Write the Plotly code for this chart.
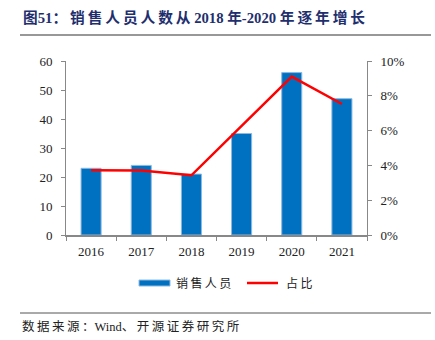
import plotly.graph_objects as go

# Data
years = ["2016", "2017", "2018", "2019", "2020", "2021"]
sales_staff = [23, 24, 21, 35, 56, 47]          # 销售人员 (left axis)
share_pct = [3.72, 3.70, 3.43, 6.24, 9.10, 7.53]  # 占比, % (right axis)

left_ticks = [0, 10, 20, 30, 40, 50, 60]
right_ticks = [0, 2, 4, 6, 8, 10]

BAR_BLUE = "#0070C0"
LINE_RED = "#FF0000"
NAVY = "#1F2F6E"
AXIS_GREY = "#888888"
SERIF = "Liberation Serif, Times New Roman, Noto Serif CJK SC, serif"
CJK = "Liberation Serif, Noto Sans CJK SC, sans-serif"

PLOT_L, PLOT_R, PLOT_T, PLOT_B = 66, 367, 61, 235


def is_wide(ch):
    return ord(ch) > 0x2E80


def spaced(text, sep="\u2009"):
    """Open up CJK text a little by putting thin spaces between adjacent wide glyphs."""
    out = ""
    for i, ch in enumerate(text):
        out += ch
        if i + 1 < len(text) and is_wide(ch) and is_wide(text[i + 1]):
            out += sep
    return out


def px_x(px):
    return (px - PLOT_L) / (PLOT_R - PLOT_L)


def px_y(py):
    return (PLOT_B - py) / (PLOT_B - PLOT_T)


fig = go.Figure()

fig.add_trace(go.Bar(
    x=years, y=sales_staff, name="销售人员",
    marker=dict(color=BAR_BLUE, line=dict(color="#8DB8E0", width=1)),
    width=0.4, yaxis="y", showlegend=False,
))

fig.add_trace(go.Scatter(
    x=years, y=share_pct, name="占比", mode="lines",
    line=dict(color=LINE_RED, width=2.5), yaxis="y2", showlegend=False,
))

axis_font = dict(family=SERIF, size=13, color="#222222")

fig.update_layout(
    width=435, height=340,
    margin=dict(l=PLOT_L, r=435 - PLOT_R, t=PLOT_T, b=340 - PLOT_B),
    paper_bgcolor="white", plot_bgcolor="white",
    xaxis=dict(
        type="category", tickson="boundaries", ticks="outside", ticklen=4,
        tickcolor=AXIS_GREY, showline=True, linecolor=AXIS_GREY, linewidth=1.5,
        showgrid=False, tickfont=axis_font, ticklabelstandoff=4,
    ),
    yaxis=dict(
        range=[0, 60], tickvals=left_ticks, ticks="outside", ticklen=4,
        tickcolor=AXIS_GREY, showline=True, linecolor=AXIS_GREY, linewidth=1,
        showgrid=False, zeroline=False, tickfont=axis_font, ticklabelstandoff=6,
    ),
    yaxis2=dict(
        range=[0, 10], tickvals=right_ticks,
        ticktext=[f"{v}%" for v in right_ticks],
        overlaying="y", side="right", ticks="outside", ticklen=4,
        tickcolor=AXIS_GREY, showline=True, linecolor=AXIS_GREY, linewidth=1,
        showgrid=False, zeroline=False, tickfont=axis_font, ticklabelstandoff=6,
    ),
    showlegend=False,
)

# Title and rule beneath it
fig.add_annotation(
    text="<b>" + spaced("图51：销售人员人数从 2018 年-2020 年逐年增长") + "</b>",
    xref="paper", yref="paper", x=px_x(21), y=px_y(17),
    xanchor="left", yanchor="middle", showarrow=False,
    font=dict(family=CJK, size=14.7, color=NAVY),
)
fig.add_shape(type="line", xref="paper", yref="paper",
              x0=px_x(20), x1=px_x(431), y0=px_y(35), y1=px_y(35),
              line=dict(color="#333333", width=1.2))

# Legend
fig.add_shape(type="rect", xref="paper", yref="paper",
              x0=px_x(139), x1=px_x(170), y0=px_y(286), y1=px_y(280),
              fillcolor=BAR_BLUE, line=dict(color="#8DB8E0", width=1))
fig.add_annotation(text=spaced("销售人员"), xref="paper", yref="paper",
                   x=px_x(174), y=px_y(283),
                   xanchor="left", yanchor="middle", showarrow=False,
                   font=dict(family=CJK, size=12, color="#222222"))
fig.add_shape(type="line", xref="paper", yref="paper",
              x0=px_x(247), x1=px_x(278), y0=px_y(283), y1=px_y(283),
              line=dict(color=LINE_RED, width=2.5))
fig.add_annotation(text=spaced("占比"), xref="paper", yref="paper",
                   x=px_x(284), y=px_y(283),
                   xanchor="left", yanchor="middle", showarrow=False,
                   font=dict(family=CJK, size=12, color="#222222"))

# Source rule and note
fig.add_shape(type="line", xref="paper", yref="paper",
              x0=px_x(20), x1=px_x(431), y0=px_y(313), y1=px_y(313),
              line=dict(color="#555555", width=1))
fig.add_annotation(text=spaced("数据来源：Wind、开源证券研究所"), xref="paper", yref="paper",
                   x=px_x(20), y=px_y(326),
                   xanchor="left", yanchor="middle", showarrow=False,
                   font=dict(family=CJK, size=12.5, color="#222222"))

fig.write_html("out.html")
